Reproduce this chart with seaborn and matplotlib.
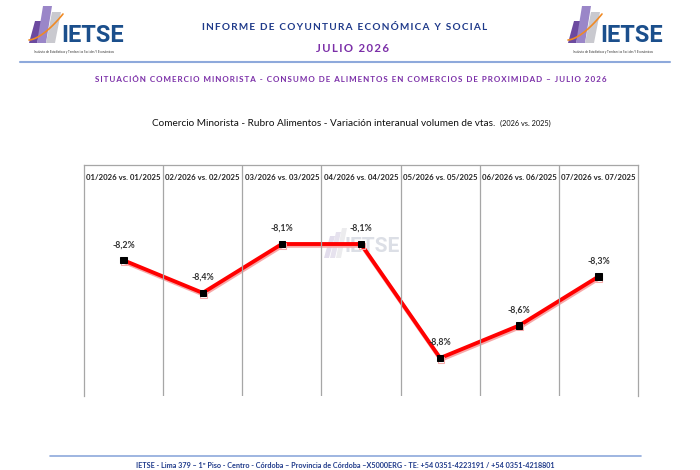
import numpy as np
import pandas as pd
import matplotlib
matplotlib.use("Agg")
import matplotlib.pyplot as plt
import matplotlib.patheffects as pe
from matplotlib.patches import Polygon
import seaborn as sns

# datos del gráfico
periodos = ["01/2026 vs. 01/2025", "02/2026 vs. 02/2025", "03/2026 vs. 03/2025",
            "04/2026 vs. 04/2025", "05/2026 vs. 05/2025", "06/2026 vs. 06/2025",
            "07/2026 vs. 07/2025"]
variacion = [-8.2, -8.4, -8.1, -8.1, -8.8, -8.6, -8.3]
etiquetas = ["-8,2%", "-8,4%", "-8,1%", "-8,1%", "-8,8%", "-8,6%", "-8,3%"]

sns.set_style("white")
plt.rcParams['font.family'] = ['Lato', 'DejaVu Sans']

AZUL = "#1F3A8A"
VIOLETA = "#7B2FA8"

fig = plt.figure(figsize=(7, 4.7), dpi=100)


def px(x, y):
    # pixeles -> fraccion de figura
    return x / 700, 1 - y / 470


def espaciar(s):
    return "\u2009".join(s)


def logo(x0):
    # barras inclinadas del logo
    barras = [(x0 + 2, 43, x0 + 10, "#6C4AA0"), (x0 + 10, 43, x0 + 19, "#9A86C8"),
              (x0 + 19, 43, x0 + 28, "#C9C9CF")]
    alturas = [22, 37, 31]
    for (bx, by, bx2, col), h in zip(barras, alturas):
        pts = [px(bx, by), px(bx2, by), px(bx2 + 6, by - h), px(bx + 6, by - h)]
        fig.patches.append(Polygon(pts, closed=True, transform=fig.transFigure,
                                   facecolor=col, edgecolor="none"))
    t = np.linspace(0, 1, 30)
    cx = x0 + 2 + 34 * t
    cy = 40 - 26 * t ** 1.6
    fig.add_artist(plt.Line2D(cx / 700, 1 - cy / 470, color="#F08A24", lw=1.2,
                              transform=fig.transFigure))
    fig.text(*px(x0 + 34, 35), "IETSE", color="#1B4F8C", fontsize=17, fontweight="bold",
             family=["Roboto", "DejaVu Sans"], va="center", ha="left")
    fig.text(*px(x0 + 47, 52), "Instituto de Estadísticas y Tendencias Sociales Y Económicos",
             fontsize=2.2, color="#333333", ha="center", va="center")


logo(27)
logo(566)

fig.text(*px(345, 28), espaciar("INFORME DE COYUNTURA ECONÓMICA Y SOCIAL"),
         color=AZUL, fontsize=7.2, fontweight="bold", ha="center", va="center")
fig.text(*px(352, 48), espaciar("JULIO 2026"), color=VIOLETA, fontsize=8.2,
         fontweight="bold", ha="center", va="center")
fig.add_artist(plt.Line2D([20 / 700, 670 / 700], [1 - 62 / 470] * 2, color="#8EA9DB",
                          lw=1.5, transform=fig.transFigure))
fig.text(*px(351, 80), espaciar("SITUACIÓN COMERCIO MINORISTA - CONSUMO DE ALIMENTOS EN "
                                "COMERCIOS DE PROXIMIDAD – JULIO 2026"),
         color=VIOLETA, fontsize=5.75, fontweight="bold", ha="center", va="center")
fig.text(*px(495, 123), "Comercio Minorista - Rubro Alimentos - Variación interanual volumen de vtas.",
         color="#111111", fontsize=7.2, ha="right", va="center")
fig.text(*px(500, 123.5), "(2026 vs. 2025)", color="#111111", fontsize=5.3,
         ha="left", va="center")

# marca de agua (detras de la linea)
for i, col in enumerate(["#E2DDEC", "#E6E2EE", "#ECECEE"]):
    bx = 324 + i * 6
    pts = [px(bx, 258), px(bx + 5, 258), px(bx + 11, 236 - i * 4), px(bx + 6, 236 - i * 4)]
    fig.patches.append(Polygon(pts, closed=True, transform=fig.transFigure,
                               facecolor=col, edgecolor="none", zorder=-1))
fig.text(*px(344, 246), "IETSE", color="#DCDFE6", fontsize=15, fontweight="bold",
         family=["Roboto", "DejaVu Sans"], va="center", ha="left", zorder=-1)

# footer
fig.add_artist(plt.Line2D([50 / 700, 641 / 700], [1 - 456 / 470] * 2, color="#8EA9DB",
                          lw=1.2, transform=fig.transFigure))
fig.text(*px(345, 465), "IETSE - Lima 379 – 1º Piso - Centro - Córdoba – Provincia de Córdoba –X5000ERG"
         " - TE: +54 0351-4223191 / +54 0351-4218801",
         color="#1F3A8A", fontsize=5.2, fontweight="bold", ha="center", va="center")

# grafico
ax = fig.add_axes([84 / 700, 1 - 396 / 470, (638 - 84) / 700, (396 - 165) / 470])
ax.patch.set_alpha(0)
df = pd.DataFrame({"x": np.arange(len(periodos)), "v": variacion})
sns.lineplot(data=df, x="x", y="v", ax=ax, color="#FF0000", lw=2.8, marker="s",
             markersize=4.5, markerfacecolor="black", markeredgecolor="black",
             path_effects=[pe.SimpleLineShadow(offset=(0.5, -1.3), shadow_color="#F7A8A8",
                                               alpha=1), pe.Normal()])
ax.set_xlim(-0.5, len(periodos) - 0.5)
ax.set_ylim(-9.033, -7.615)
for i in range(1, len(periodos)):
    ax.axvline(i - 0.5, color="#A6A6A6", lw=0.9)
for s in ["left", "right", "top"]:
    ax.spines[s].set_color("#A6A6A6")
    ax.spines[s].set_linewidth(0.9)
ax.spines["bottom"].set_visible(False)
ax.set_xticks([])
ax.set_yticks([])
ax.set_xlabel("")
ax.set_ylabel("")
for i, p in enumerate(periodos):
    ax.text(i, 0.948, p, transform=ax.get_xaxis_transform(), ha="center", va="center",
            fontsize=5.6, fontweight="bold", color="#222222")
for i, (v, lab) in enumerate(zip(variacion, etiquetas)):
    ax.annotate(lab, (i, v), xytext=(0, 8), textcoords="offset points", ha="center",
                va="bottom", fontsize=6.3, fontweight="bold", color="#333333")

fig.savefig("out.png", dpi=100)
